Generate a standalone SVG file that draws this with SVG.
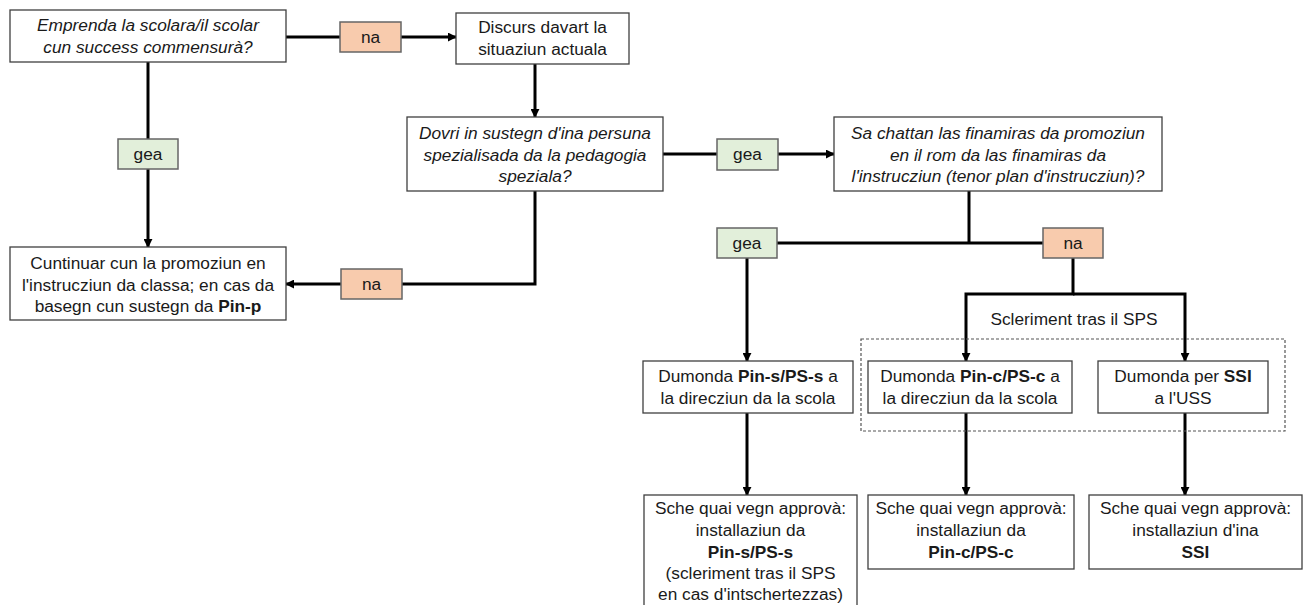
<svg xmlns="http://www.w3.org/2000/svg" width="1307" height="605" viewBox="0 0 1307 605">
<defs>
<marker id="arr" viewBox="0 0 10 10" refX="9" refY="5" markerWidth="9" markerHeight="9" markerUnits="userSpaceOnUse" orient="auto">
<path d="M0,0 L10,5 L0,10 z" fill="#000"/>
</marker>
<style>
.box{fill:#fff;stroke:#3f3f3f;stroke-width:1.3}
.yes{fill:#e2efda;stroke:#666;stroke-width:1.5}
.no{fill:#f8cbad;stroke:#666;stroke-width:1.5}
.con{fill:none;stroke:#000;stroke-width:3}
.arr{marker-end:url(#arr)}
.dash{fill:none;stroke:#555;stroke-width:1.2;stroke-dasharray:3 2}
text{font-family:"Liberation Sans",Arial,sans-serif;font-size:17.3px;fill:#1a1a1a;text-anchor:middle}
.it{font-style:italic}
.b{font-weight:bold}
</style>
</defs>
<rect width="1307" height="605" fill="#fff"/>

<g id="connectors">
<path class="con arr" d="M286,37 H456"/>
<path class="con arr" d="M148,62 V247"/>
<path class="con arr" d="M535,64 V117"/>
<path class="con arr" d="M535,191 V284 H286"/>
<path class="con arr" d="M663,154 H834"/>
<path class="con" d="M969,191 V243"/>
<path class="con" d="M747,243 H1073"/>
<path class="con arr" d="M747,258 V361"/>
<path class="con arr" d="M1073,258 V294 H966 V361"/>
<path class="con arr" d="M1073,294 H1185 V361"/>
<path class="con arr" d="M747,413 V495"/>
<path class="con arr" d="M966,413 V495"/>
<path class="con arr" d="M1185,413 V495"/>
</g>

<g id="group-sps">
<rect class="dash" x="861" y="339" width="424" height="92"/>
<text x="1074" y="325">Scleriment tras il SPS</text>
</g>

<g id="label-na-1"><rect class="no" x="340" y="22" width="61" height="30"/><text x="370.5" y="43">na</text></g>
<g id="label-gea-1"><rect class="yes" x="118" y="139" width="60" height="30"/><text x="148" y="160">gea</text></g>
<g id="label-na-2"><rect class="no" x="341" y="269" width="61" height="30"/><text x="371.5" y="290">na</text></g>
<g id="label-gea-2"><rect class="yes" x="717" y="139" width="61" height="31"/><text x="747.5" y="160">gea</text></g>
<g id="label-gea-3"><rect class="yes" x="717" y="228" width="60" height="30"/><text x="747" y="249">gea</text></g>
<g id="label-na-3"><rect class="no" x="1043" y="228" width="60" height="30"/><text x="1073" y="249">na</text></g>

<g id="n1">
<rect class="box" x="10" y="10" width="276" height="52"/>
<text class="it" x="148" y="31">Emprenda la scolara/il scolar</text>
<text class="it" x="148" y="53">cun success commensurà?</text>
</g>
<g id="n2">
<rect class="box" x="456" y="13" width="173" height="51"/>
<text x="542.5" y="33">Discurs davart la</text>
<text x="542.5" y="55">situaziun actuala</text>
</g>
<g id="n3">
<rect class="box" x="407" y="117" width="256" height="74"/>
<text class="it" x="535" y="139">Dovri in sustegn d'ina persuna</text>
<text class="it" x="535" y="161">spezialisada da la pedagogia</text>
<text class="it" x="535" y="182">speziala?</text>
</g>
<g id="n4">
<rect class="box" x="834" y="117" width="328" height="74"/>
<text class="it" x="998" y="139">Sa chattan las finamiras da promoziun</text>
<text class="it" x="998" y="161">en il rom da las finamiras da</text>
<text class="it" x="998" y="182">l'instrucziun (tenor plan d'instrucziun)?</text>
</g>
<g id="n5">
<rect class="box" x="10" y="247" width="276" height="73"/>
<text x="148" y="269">Cuntinuar cun la promoziun en</text>
<text x="148" y="290.5">l'instrucziun da classa; en cas da</text>
<text x="148" y="312">basegn cun sustegn da <tspan class="b">Pin-p</tspan></text>
</g>
<g id="n6">
<rect class="box" x="643" y="361" width="210" height="52"/>
<text x="748" y="382">Dumonda <tspan class="b">Pin-s/PS-s</tspan> a</text>
<text x="748" y="404">la direcziun da la scola</text>
</g>
<g id="n7">
<rect class="box" x="868" y="361" width="204" height="52"/>
<text x="970" y="382">Dumonda <tspan class="b">Pin-c/PS-c</tspan> a</text>
<text x="970" y="404">la direcziun da la scola</text>
</g>
<g id="n8">
<rect class="box" x="1098" y="361" width="170" height="52"/>
<text x="1183" y="382">Dumonda per <tspan class="b">SSI</tspan></text>
<text x="1183" y="404">a l'USS</text>
</g>
<g id="n9">
<rect class="box" x="644" y="495" width="213" height="115"/>
<text x="750.5" y="514">Sche quai vegn approvà:</text>
<text x="750.5" y="536">installaziun da</text>
<text class="b" x="750.5" y="558">Pin-s/PS-s</text>
<text x="750.5" y="579">(scleriment tras il SPS</text>
<text x="750.5" y="600">en cas d'intschertezzas)</text>
</g>
<g id="n10">
<rect class="box" x="868" y="495" width="206" height="74"/>
<text x="971" y="514">Sche quai vegn approvà:</text>
<text x="971" y="536">installaziun da</text>
<text class="b" x="971" y="558">Pin-c/PS-c</text>
</g>
<g id="n11">
<rect class="box" x="1089" y="495" width="213" height="74"/>
<text x="1195.5" y="514">Sche quai vegn approvà:</text>
<text x="1195.5" y="536">installaziun d'ina</text>
<text class="b" x="1195.5" y="558">SSI</text>
</g>
</svg>
